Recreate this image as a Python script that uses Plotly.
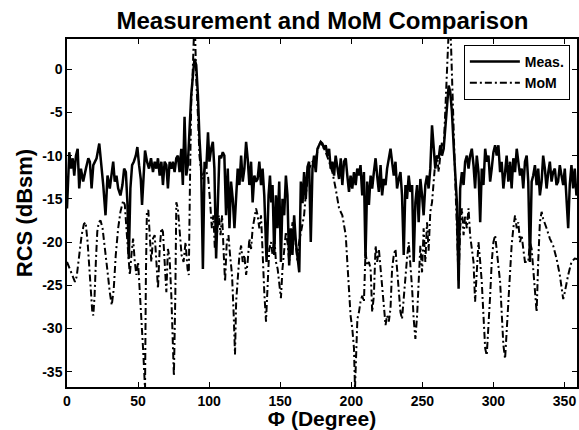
import plotly.graph_objects as go

# ---- data ----
meas_phi = [0, 0.9, 1.6, 2.8, 4, 5.1, 6.3, 7.5, 8.6, 9.8, 11.4, 13.3, 15, 16.1, 17.3, 18.5, 19.6, 20.8, 22.7, 24.3,
            25.5, 27.1, 28.5, 30.1, 31.3, 32.5, 33.6, 34.8, 36, 37.6, 39, 40.2, 41.4, 42.5, 43.5, 44.6, 45.8, 47, 48.4, 49.5,
            50.7, 51.9, 52.8, 54, 54.9, 56.3, 57.7, 59.1, 60.5, 61.7, 62.9, 64, 65.2, 66.4, 67.5, 68.7, 69.9, 71, 72.2, 73.4,
            74.5, 75.7, 76.9, 78, 79.2, 80.4, 81.5, 82.7, 83.9, 85, 86.2, 87.4, 88.6, 89.7, 90.9, 92.1, 93.2, 94.4, 95.6, 96.8,
            98, 99.2, 100.2, 101.4, 102.6, 103.7, 104.9, 106.1, 107.2, 108.4, 109.6, 110.7, 111.9, 113.1, 114.3, 115.4, 116.6, 117.8, 119, 120.1,
            121.3, 122.5, 123.6, 124.8, 126, 127.1, 128.3, 129.5, 130.6, 131.8, 133, 134.1, 135.3, 136.5, 137.6, 138.8, 140.4, 141.8, 142.8, 143.7,
            144.6, 145.8, 147, 148.1, 149.3, 150.5, 151.6, 152.8, 154, 155.1, 156.3, 157.5, 158.6, 159.8, 161, 162.2, 163.4, 164.5, 165.7, 166.8,
            168, 169.2, 170.3, 171.5, 172.7, 173.8, 175, 176.2, 177.3, 178.5, 179.7, 180.8, 182, 183.2, 184.4, 185.5, 186.7, 187.9, 189, 190.2,
            191.4, 192.6, 193.7, 194.9, 196.1, 197.2, 198.4, 199.5, 200.7, 201.9, 203.1, 204.2, 205.4, 206.5, 207.7, 208.9, 210, 211.2, 212.4, 213.6,
            214.7, 215.9, 217.1, 218.2, 219.4, 220.6, 221.7, 222.9, 224.1, 225.2, 226.4, 227.6, 228.7, 229.9, 231.1, 232.2, 233.4, 234.6, 235.7, 236.9,
            238.1, 239.2, 240.4, 241.6, 242.8, 243.9, 245.1, 246.3, 247.4, 248.6, 249.8, 250.9, 252.1, 253.3, 254.4, 255.6, 256.8, 258, 259.1, 260.3,
            261.5, 262.6, 263.8, 265, 266.1, 267.3, 268.5, 269.6, 270.8, 272, 273.1, 274.3, 275.5, 276.6, 277.8, 279, 280.1, 281.3, 282.5, 283.6,
            284.8, 286, 287.1, 288.3, 289.5, 290.7, 291.8, 293, 294.2, 295.3, 296.5, 297.7, 298.8, 300, 301.2, 302.3, 303.5, 304.7, 305.8, 307,
            308.2, 309.3, 310.5, 311.7, 312.8, 314, 315.2, 316.4, 317.5, 318.7, 319.9, 321, 322.2, 323.4, 324.5, 325.7, 326.9, 328, 329.2, 330.4,
            331.5, 332.7, 333.9, 335, 336.2, 337.4, 338.6, 339.7, 340.9, 342, 343.2, 344.4, 345.5, 346.7, 347.9, 349.1, 350.2, 351.4, 352.6, 353.7,
            354.9, 356.1, 357.2, 358.4, 360]
meas_rcs = [-16.1, -11.5, -9.6, -11.5, -10.3, -12.3, -10, -9.2, -13.8, -11.5, -13, -11.5, -10.3, -10.7, -13.8, -11.1, -10.7, -10.3, -8.6, -11.1,
            -13.4, -16.9, -12.3, -13.8, -11.9, -10.7, -13, -12.3, -13.8, -14.6, -13.4, -11.5, -11.9, -15.4, -21.9, -13.8, -11.1, -10.7, -10, -9,
            -11.1, -12.7, -15.7, -11.5, -9.4, -10.7, -11.5, -10.3, -11.9, -10.7, -11.5, -10.3, -12.3, -10.7, -13.4, -10.7, -11.1, -13.8, -10.7, -11.5,
            -10.7, -11.9, -10.3, -10, -11.9, -9.2, -13.4, -5.5, -12.3, -11.1, -6.9, -3.0, -0.7, 1.2, 0.5, -3.0, -8.0, -11.5, -23.1, -10.7,
            -11.5, -7.3, -10.7, -9.2, -8.4, -11.5, -21.9, -16.1, -10, -10.3, -9.6, -10, -16.9, -11.5, -18.4, -13, -15, -18.4, -13.8, -11.5,
            -13.4, -10, -13, -11.5, -8.4, -10.3, -13.4, -10.7, -15.4, -12.3, -13, -12.7, -10.7, -13.4, -11.5, -14.6, -22.3, -14.6, -12.3, -15.4,
            -13.4, -21.5, -14.6, -18.4, -13, -22.3, -15, -16.9, -12.3, -14.6, -22.7, -18.4, -21.5, -16.9, -20, -21.5, -23.5, -13, -15.5, -11.9,
            -15, -11.3, -10.7, -20, -11.5, -10, -11.9, -9.2, -8.8, -8.4, -8.6, -9.2, -8.8, -10, -9.2, -11.5, -10.7, -12.3, -10, -11.5,
            -12.7, -10.3, -13.4, -10.7, -10.3, -12.3, -14.2, -12.3, -13.8, -11.9, -13.4, -11.5, -12.3, -11.1, -14.6, -11.9, -21.9, -13, -15.7, -12.3,
            -13.8, -11.9, -10.3, -12.3, -14.2, -11.1, -14.6, -12.7, -13.4, -11.5, -10.3, -9.2, -10.7, -12.3, -10.7, -13.8, -12.7, -11.9, -14.6, -21.5,
            -13.4, -15, -12.3, -14.2, -13.4, -22.3, -15.4, -13.4, -17.7, -12.7, -14.6, -16.9, -13.4, -12.3, -13.8, -11.5, -6.5, -9.6, -11.5, -10,
            -10.3, -8.8, -10, -9.2, -6.9, -4.9, -1.9, -2.6, -4.9, -8.8, -12.3, -15.4, -25.4, -13.8, -11.9, -13.4, -10.7, -10, -11.5, -10,
            -9.2, -11.1, -13.8, -10, -11.9, -17.7, -11.5, -13.4, -9.2, -10.7, -10, -13, -11.5, -9.6, -8.8, -10, -8.8, -11.9, -10.7, -13.8,
            -11.9, -10, -13, -10.7, -13.8, -10.3, -11.9, -9.2, -10.7, -12.3, -11.5, -13.8, -10.7, -10, -13, -22.3, -13, -12.3, -11.1, -13.4,
            -11.5, -14.6, -13, -10, -11.5, -13.8, -11.9, -10.7, -13, -11.9, -11.5, -13.4, -13, -11.1, -12.3, -13.4, -11.5, -14.6, -18.4, -13.4,
            -11.1, -13.8, -11.5, -14.6, -14]

mom_phi = [0, 2.1, 4, 5.6, 6.8, 8.6, 10.3, 11.9, 13.1, 14.5, 16.1, 17.8, 18.5, 19.4, 20.3, 21.3, 22.4, 23.6, 25, 26.6,
           28.3, 30.1, 31.5, 32.9, 34.3, 36, 37.6, 39.5, 40.7, 41.8, 43, 44.2, 45.3, 46.5, 47.7, 48.8, 50, 51.2, 52.3, 53.5,
           54.2, 54.9, 55.5, 56.2, 57.2, 58.4, 59.3, 60.5, 61.7, 62.9, 64, 65.2, 66.4, 67.5, 68.7, 69.9, 71, 72.2, 73.4, 74.5,
           75.2, 76.2, 76.9, 78, 79.2, 80.6, 82, 83.4, 84.8, 85.7, 86.6, 87.4, 88.3, 89.1, 89.7, 90.3, 90.9, 92.1, 93.2, 94.4,
           95.6, 96.8, 98, 99.2, 100.7, 101.9, 103, 104, 105.4, 106.8, 108, 109.1, 110.3, 111.2, 112.4, 113.6, 114.7, 116.1, 117.3, 118.2,
           119, 120.1, 121.3, 122.5, 123.6, 124.8, 126, 127.1, 128.3, 129.5, 130.6, 131.8, 133, 134.1, 135.3, 136.5, 137.6, 138.8, 140, 141.1,
           142.3, 143.5, 144.6, 145.8, 147, 148.2, 149.3, 150.5, 151.6, 152.8, 154, 155.1, 156.3, 157.5, 158.6, 159.8, 161, 162.2, 163.3, 165.2,
           166.8, 168, 169.2, 170.3, 172.7, 175, 177.3, 178.5, 179.7, 182, 184.4, 186.7, 189, 191.4, 193.7, 196.1, 197.2, 198.4, 199.5, 200.7,
           201.9, 202.6, 203.6, 204.3, 205.4, 206.5, 207.7, 208.9, 210, 211.2, 212.4, 213.6, 214.7, 215.9, 217.1, 218.2, 219.4, 220.6, 221.7, 222.9,
           224.1, 225.2, 226.4, 227.6, 228.7, 229.9, 231.1, 232.2, 233.4, 234.6, 235.7, 236.9, 238.1, 239.2, 240.4, 241.6, 242.8, 243.9, 245.1, 246.3,
           247.4, 248.6, 249.8, 250.9, 252.1, 253.3, 254.4, 255.6, 256.8, 258, 259.1, 260.3, 261.5, 262.6, 263.8, 265, 266.1, 267.3, 268.5, 269.2,
           270.1, 270.8, 272, 273.1, 274.3, 275.5, 276.6, 277.8, 279, 280.1, 281.3, 282.5, 283.6, 284.8, 286, 287.1, 288.3, 289.5, 290.7, 291.8,
           293, 294.2, 295.3, 296.5, 297.7, 298.8, 300, 301.2, 302.3, 303.5, 304.7, 305.8, 307, 308.2, 309.3, 310.5, 311.7, 312.8, 314, 315.2,
           316.4, 317.5, 318.7, 319.9, 321, 322.2, 323.4, 324.5, 325.7, 326.9, 328, 329.2, 330.4, 331.5, 332.7, 333.9, 335, 337.4, 339.7, 342,
           344.4, 346.7, 349.1, 350.2, 351.4, 352.6, 354.9, 357.2, 360]
mom_rcs = [-22.3, -23.1, -24, -24.6, -24, -21.5, -19.2, -17.9, -17.7, -20, -23.8, -28.1, -28.5, -26.2, -22.3, -18.8, -17.7, -17.5, -18.4, -20.4,
           -23.1, -25.8, -27.3, -25.4, -21.5, -18.4, -16.5, -15.2, -15.7, -18.4, -20.8, -23.8, -21.5, -19.6, -22.3, -23.8, -22.3, -25.4, -29.2, -32.3,
           -34.6, -37, -24, -16.5, -16.3, -19.2, -22.3, -19.6, -19.2, -22.3, -25.4, -20.8, -18.4, -18.8, -22.3, -25.8, -20.8, -21.9, -26.2, -33.5,
           -35.5, -26.2, -15.4, -16.1, -18.4, -21.5, -22.3, -20, -23.1, -23.8, -12, -3.8, -1, 3, 6, 3, -1.1, -5.3, -10, -11.9,
           -12.7, -11.5, -12, -12.3, -15.4, -18.4, -16.9, -20.8, -19.2, -16.9, -19.2, -16.9, -21.5, -24.6, -20, -19.2, -21.5, -23.8, -28.5, -33,
           -26.9, -23.8, -21.5, -20.4, -22.3, -21.5, -23.8, -22.3, -19.6, -20.8, -18.4, -17.3, -16.1, -16.9, -18.4, -16.9, -21.9, -25.8, -29.2, -25.8,
           -20.8, -20, -21.5, -19.2, -22.3, -23.1, -24.6, -26.5, -23.1, -20.4, -18.8, -20, -22.3, -20.8, -17.7, -18.4, -20.8, -22.3, -20, -18.4,
           -16.9, -14.5, -13, -11.5, -10.7, -10.3, -8.8, -8.4, -8.8, -9.6, -10.7, -11.9, -13.8, -16.1, -16.9, -19.2, -22.3, -25.4, -28.5, -30,
           -32.3, -37, -30.8, -28.9, -28.1, -26.9, -26.2, -26.9, -21.1, -22.7, -22.3, -23.1, -28.1, -26.2, -20.4, -22.3, -20.8, -23.1, -25.4, -27.7,
           -29.6, -28.5, -29.2, -27.7, -23.1, -21.5, -20.8, -23.1, -25.4, -28.1, -28.9, -26.2, -24.2, -21.9, -20, -22.3, -25.4, -28.9, -31.2, -28.5,
           -24.6, -20.4, -23.5, -18.4, -22.3, -17.7, -21, -16.5, -15.4, -12.3, -10.7, -10, -11.9, -10, -8.4, -9.2, -5.3, -1.1, 3.9, 7,
           3.2, -1.1, -6.9, -12.7, -18.4, -24.6, -18.4, -16.1, -19.2, -16.9, -18.4, -16.1, -19.2, -20.8, -22.3, -26.9, -23.8, -20, -22.3, -24.6,
           -28.5, -32.3, -33.1, -30, -26.2, -22.3, -20, -19.2, -20.8, -22.3, -24.6, -28.1, -31.9, -33.5, -30, -26.2, -22.3, -20.4, -18.4, -16.9,
           -18.4, -17.7, -20, -19.2, -20.8, -22.3, -22.3, -22.3, -20, -20.8, -23.1, -26.2, -28.1, -22.3, -17.7, -16.5, -17.3, -18.4, -19.6, -20.4,
           -21.9, -23.8, -26.6, -25.8, -24.6, -23.8, -22.3, -21.9, -22]

x_ticks = [0, 50, 100, 150, 200, 250, 300, 350]
y_ticks = [-35, -30, -25, -20, -15, -10, -5, 0]
y_tick_text = ["-35", "-30", "-25", "-20", "-15", "-10", "-5", "0"]

FONT = "Arial"

fig = go.Figure()
fig.add_trace(go.Scatter(x=meas_phi, y=meas_rcs, mode="lines", name="Meas.",
                         line=dict(color="black", width=2.5)))
fig.add_trace(go.Scatter(x=mom_phi, y=mom_rcs, mode="lines", name="MoM",
                         line=dict(color="black", width=2, dash="7px,3px,2px,3px")))

axis_common = dict(showline=True, linecolor="black", linewidth=1.5, mirror="ticks",
                   ticks="inside", ticklen=5, tickcolor="black", tickwidth=1,
                   showgrid=False, zeroline=False,
                   tickfont=dict(family=FONT, size=14, color="black", weight="bold"))

fig.update_layout(
    width=579, height=430,
    margin=dict(l=67, r=0, t=39, b=43),
    paper_bgcolor="white", plot_bgcolor="white",
    title=dict(text="Measurement and MoM Comparison", x=0.557, xanchor="center",
               y=0.952, yanchor="middle",
               font=dict(family=FONT, size=24, color="black", weight="bold")),
    xaxis=dict(range=[0, 358.8], tickvals=x_ticks, **axis_common,
               title=dict(text="Φ (Degree)", standoff=6,
                          font=dict(family=FONT, size=21, color="black", weight="bold"))),
    yaxis=dict(range=[-36.77, 3.5], tickvals=y_ticks, ticktext=y_tick_text, **axis_common,
               title=dict(text="RCS (dBsm)", standoff=4,
                          font=dict(family=FONT, size=22, color="black", weight="bold"))),
    legend=dict(x=0.986, y=0.983, xanchor="right", yanchor="top",
                bgcolor="white", bordercolor="black", borderwidth=1,
                font=dict(family=FONT, size=14, color="black", weight="bold"),
                itemwidth=50, tracegroupgap=0),
    showlegend=True,
)

fig.write_html("out.html")
